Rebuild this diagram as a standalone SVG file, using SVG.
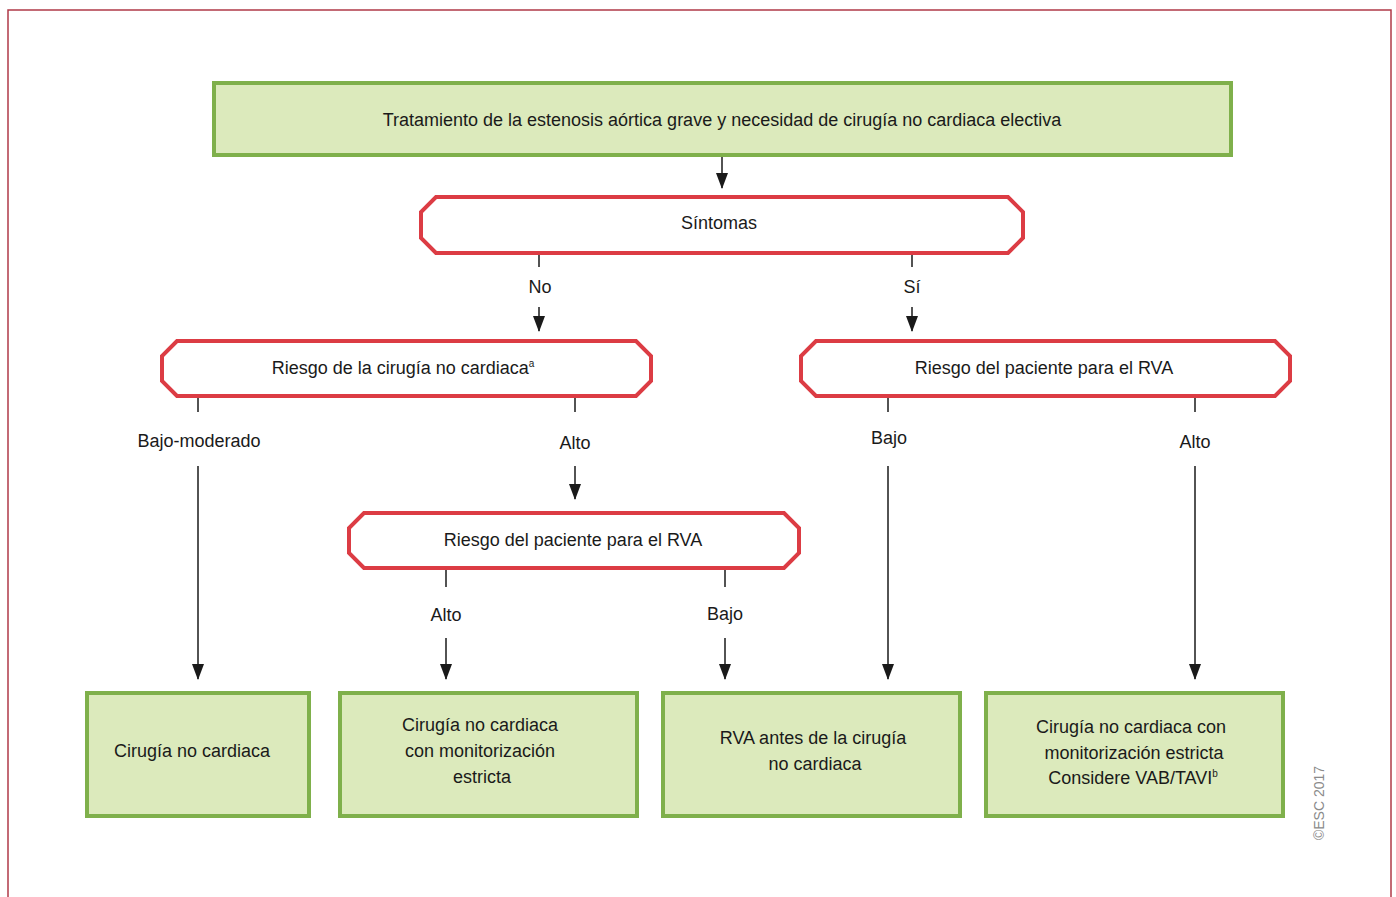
<svg xmlns="http://www.w3.org/2000/svg" width="1396" height="897" viewBox="0 0 1396 897">
<style>
.frame{fill:none;stroke:#b03a48;stroke-width:1.5}
.gbox{fill:#dceabc;stroke:#7fb04b;stroke-width:4}
.hex{fill:#fff;stroke:#dc3c44;stroke-width:4;stroke-linejoin:miter}
.t{font-family:"Liberation Sans",Arial,sans-serif;font-size:18px;fill:#1a1a1a;text-anchor:middle}
.c{stroke:#1a1a1a;stroke-width:1.5;fill:none}
.a{stroke:#1a1a1a;stroke-width:1.5;fill:none;marker-end:url(#ah)}
.sup{font-size:10px}
.esc{font-family:"Liberation Sans",Arial,sans-serif;font-size:14px;fill:#8a8a8a;text-anchor:middle}
</style>
<defs>
<marker id="ah" markerUnits="userSpaceOnUse" markerWidth="16" markerHeight="12" viewBox="0 0 16 12" refX="15" refY="6" orient="auto">
<path d="M0,0 L16,6 L0,12 Z" fill="#1a1a1a"/>
</marker>
</defs>
<rect width="1396" height="897" fill="#fff"/>
<path class="frame" d="M8,900 L8,10 L1391,10 L1391,900"/>

<g id="top">
<rect class="gbox" x="214" y="83" width="1017" height="72"/>
<text class="t" x="722" y="126">Tratamiento de la estenosis aórtica grave y necesidad de cirugía no cardiaca electiva</text>
</g>

<g id="sintomas">
<path class="hex" d="M436,197 L1008,197 L1023,212 L1023,238 L1008,253 L436,253 L421,238 L421,212 Z"/>
<text class="t" x="719" y="229">Síntomas</text>
</g>

<g id="riesgo-cirugia">
<path class="hex" d="M177,341 L636,341 L651,356 L651,381 L636,396 L177,396 L162,381 L162,356 Z"/>
<text class="t" x="403" y="374">Riesgo de la cirugía no cardiaca<tspan class="sup" dy="-7">a</tspan></text>
</g>

<g id="riesgo-paciente-der">
<path class="hex" d="M816,341 L1275,341 L1290,356 L1290,381 L1275,396 L816,396 L801,381 L801,356 Z"/>
<text class="t" x="1044" y="374">Riesgo del paciente para el RVA</text>
</g>

<g id="riesgo-paciente-mid">
<path class="hex" d="M364,513 L784,513 L799,528 L799,553 L784,568 L364,568 L349,553 L349,528 Z"/>
<text class="t" x="573" y="546">Riesgo del paciente para el RVA</text>
</g>

<g id="res1">
<rect class="gbox" x="87" y="693" width="222" height="123"/>
<text class="t" x="192" y="757">Cirugía no cardiaca</text>
</g>
<g id="res2">
<rect class="gbox" x="340" y="693" width="297" height="123"/>
<text class="t" x="480" y="731">Cirugía no cardiaca</text>
<text class="t" x="480" y="757">con monitorización</text>
<text class="t" x="482" y="783">estricta</text>
</g>
<g id="res3">
<rect class="gbox" x="663" y="693" width="297" height="123"/>
<text class="t" x="813" y="744">RVA antes de la cirugía</text>
<text class="t" x="815" y="770">no cardiaca</text>
</g>
<g id="res4">
<rect class="gbox" x="986" y="693" width="297" height="123"/>
<text class="t" x="1131" y="733">Cirugía no cardiaca con</text>
<text class="t" x="1134" y="759">monitorización estricta</text>
<text class="t" x="1133" y="784">Considere VAB/TAVI<tspan class="sup" dy="-7">b</tspan></text>
</g>

<g id="connectors">
<line class="a" x1="722" y1="157" x2="722" y2="188"/>
<line class="c" x1="539" y1="255" x2="539" y2="267"/>
<line class="a" x1="539" y1="307" x2="539" y2="331"/>
<line class="c" x1="912" y1="255" x2="912" y2="267"/>
<line class="a" x1="912" y1="307" x2="912" y2="331"/>
<line class="c" x1="198" y1="398" x2="198" y2="412"/>
<line class="a" x1="198" y1="466" x2="198" y2="679"/>
<line class="c" x1="575" y1="398" x2="575" y2="412"/>
<line class="a" x1="575" y1="466" x2="575" y2="499"/>
<line class="c" x1="888" y1="398" x2="888" y2="412"/>
<line class="a" x1="888" y1="466" x2="888" y2="679"/>
<line class="c" x1="1195" y1="398" x2="1195" y2="412"/>
<line class="a" x1="1195" y1="466" x2="1195" y2="679"/>
<line class="c" x1="446" y1="570" x2="446" y2="587"/>
<line class="a" x1="446" y1="638" x2="446" y2="679"/>
<line class="c" x1="725" y1="570" x2="725" y2="587"/>
<line class="a" x1="725" y1="638" x2="725" y2="679"/>
</g>

<g id="labels">
<text class="t" x="540" y="293">No</text>
<text class="t" x="912" y="293">Sí</text>
<text class="t" x="199" y="447">Bajo-moderado</text>
<text class="t" x="575" y="449">Alto</text>
<text class="t" x="889" y="444">Bajo</text>
<text class="t" x="1195" y="448">Alto</text>
<text class="t" x="446" y="621">Alto</text>
<text class="t" x="725" y="620">Bajo</text>
</g>

<text class="esc" transform="translate(1324,803) rotate(-90)">©ESC 2017</text>
</svg>
